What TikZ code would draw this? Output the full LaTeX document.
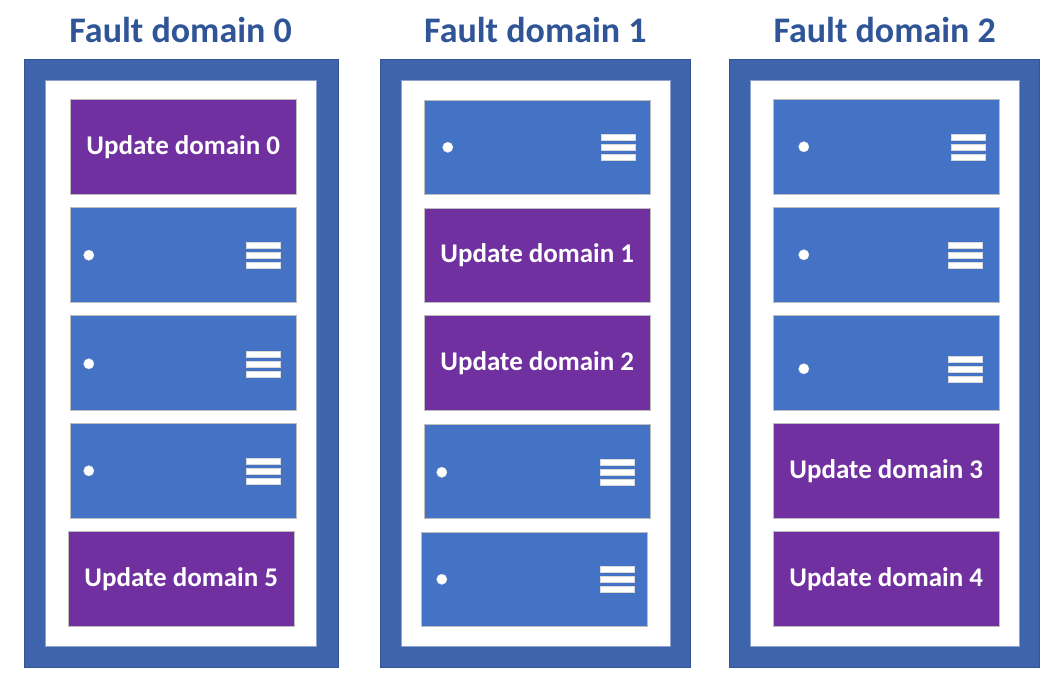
\documentclass[tikz,border=0pt]{standalone}
\usepackage{fontspec}
\setmainfont{Carlito}
\usetikzlibrary{positioning}
\definecolor{rack}{RGB}{61,100,172}
\definecolor{blade}{RGB}{68,114,196}
\definecolor{upd}{RGB}{112,48,160}
\definecolor{ttl}{RGB}{47,85,151}
\definecolor{rim}{RGB}{190,190,190}
\tikzset{
  frame/.style={draw=rack!85!black,fill=rack,line width=0.8pt,minimum height=608pt,inner sep=0pt},
  bay/.style={draw=rack!60!white,fill=white,line width=0.5pt,minimum height=566pt,inner sep=0pt},
  slot/.style={draw=rim,line width=1pt,minimum width=226pt,minimum height=94.5pt,inner sep=0pt},
  server/.style={slot,fill=blade},
  ud/.style={slot,fill=upd,text=white,font=\fontsize{27}{32}\selectfont\bfseries},
  head/.style={text=ttl,anchor=base,font=\fontsize{36}{42}\selectfont\bfseries},
  led/.style={fill=white,draw=white!85!black,line width=0.3pt},
  bar/.style={fill=white,draw=white!85!black,line width=0.3pt}
}

\begin{document}
\begin{tikzpicture}[x=1pt,y=-1pt]
  \useasboundingbox (0,0) rectangle (1061,680);
  % racks
  \node[frame,minimum width=314pt] (fd0) at (181,363.2) {};
  \node[frame,minimum width=310pt] (fd1) at (535.8,363.3) {};
  \node[frame,minimum width=310pt] (fd2) at (884.8,363.2) {};
  \node[bay,minimum width=270.3pt] (bay0) at (180.8,363) {};
  \node[bay,minimum width=268.3pt] (bay1) at (535.8,363) {};
  \node[bay,minimum width=268.3pt] (bay2) at (884.8,363) {};

  \node[head] (t0) at (180.6,42.3) {Fault domain 0};
  \node[head] (t1) at (535.4,42.3) {Fault domain 1};
  \node[head] (t2) at (884.7,42.3) {Fault domain 2};

  % fault domain 0
  \node[ud] (r0s1) at (183.3,147) {Update domain 0};
  \node[server] (r0s2) at (183.3,255.2) {};
  \node[server] (r0s3) at (183.3,362.8) {};
  \node[server] (r0s4) at (183.3,470.8) {};
  \node[ud] (r0s5) at (181.2,579) {Update domain 5};

  % fault domain 1
  \node[server] (r1s1) at (537.3,147.3) {};
  \node[ud] (r1s2) at (537.3,255.3) {Update domain 1};
  \node[ud] (r1s3) at (537.3,362.8) {Update domain 2};
  \node[server] (r1s4) at (537.3,471.3) {};
  \node[server] (r1s5) at (534.3,579.3) {};

  % fault domain 2
  \node[server] (r2s1) at (886.3,146.8) {};
  \node[server] (r2s2) at (886.3,254.8) {};
  \node[server] (r2s3) at (886.3,362.8) {};
  \node[ud] (r2s4) at (886.3,470.8) {Update domain 3};
  \node[ud] (r2s5) at (886.3,579) {Update domain 4};

  % led and vent on each server
  \foreach \s/\dx/\hx/\dy in {r0s2/19/17/0,r0s3/19/17/1,r0s4/19/17/0,
      r1s1/24/16/0,r1s4/18/17/1,r1s5/21/14/0,
      r2s1/31/15/0,r2s2/31/18/0,r2s3/31/18/6}{
    \draw[led] ([xshift=\dx pt,yshift=-\dy pt]\s.west) circle (5.2pt);
    \foreach \k in {-10,0,10}
      \draw[bar] ([xshift=-\hx pt,yshift=-\dy pt-\k pt+3pt]\s.east) rectangle ++(-34,6);
  }
\end{tikzpicture}
\end{document}
